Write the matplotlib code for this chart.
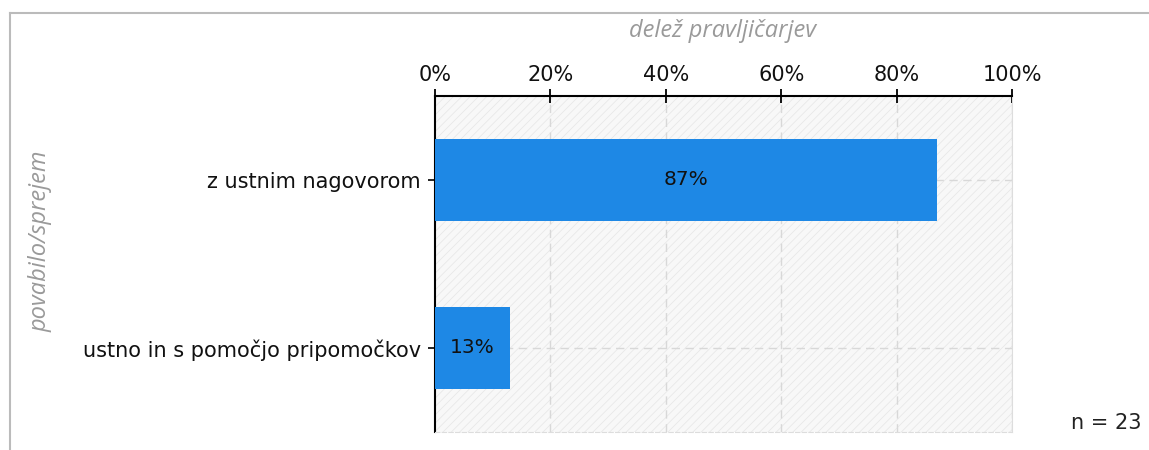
import matplotlib.pyplot as plt
from matplotlib.patches import Rectangle

categories = ["z ustnim nagovorom", "ustno in s pomočjo pripomočkov"]
shares = [87, 13]
x_ticks = [0, 20, 40, 60, 80, 100]
tick_labels = ["0%", "20%", "40%", "60%", "80%", "100%"]
n_total = 23

plt.rcParams["font.family"] = ["DejaVu Sans"]
plt.rcParams["hatch.linewidth"] = 0.6

fig = plt.figure(figsize=(11.49, 4.5), dpi=100)

# grey frame at top and left of the picture
fig.add_artist(plt.Line2D([0.009, 1.0], [0.971, 0.971], color="#bbbbbb", lw=1.5))
fig.add_artist(plt.Line2D([0.009, 0.009], [0.0, 0.971], color="#bbbbbb", lw=1.5))

ax = fig.add_axes([0.3786, 0.04, 0.5022, 0.7467])
ax.set_facecolor("#f8f8f8")
bg = Rectangle((0, -0.5), 100, 2, facecolor="none", edgecolor="#e8e8e8",
               hatch="////", lw=0, zorder=0)
ax.add_patch(bg)

ypos = list(range(len(categories)))
ax.barh(ypos, shares, height=0.49, color="#1e88e5", zorder=3)
for y, v in zip(ypos, shares):
    ax.text(v / 2, y, f"{v}%", ha="center", va="center", fontsize=14.5,
            color="#111111", zorder=4)

ax.set_xlim(0, 100)
ax.set_ylim(1.5, -0.5)
ax.xaxis.tick_top()
ax.set_xticks(x_ticks)
ax.set_xticklabels(tick_labels, fontsize=15, color="#111111")
ax.set_yticks(ypos)
ax.set_yticklabels(categories, fontsize=15, color="#111111")
ax.tick_params(axis="x", direction="inout", length=10, width=1.3, pad=3)
ax.tick_params(axis="y", direction="out", length=5, width=1.2, pad=5)

for x in x_ticks[1:]:
    ax.axvline(x, color="#d8d8d8", ls=(0, (6, 4)), lw=1, zorder=1)
for y in ypos:
    ax.axhline(y, color="#d8d8d8", ls=(0, (6, 4)), lw=1, zorder=1)

ax.spines["top"].set_linewidth(1.5)
ax.spines["left"].set_linewidth(1.5)
ax.spines["right"].set_color("#dddddd")
ax.spines["bottom"].set_color("#dddddd")
ax.spines["bottom"].set_linestyle((0, (4, 2)))

fig.text(0.629, 0.931, "delež pravljičarjev", ha="center", va="center",
         fontsize=17, style="italic", color="#9a9a9a", family="Open Sans")
fig.text(0.035, 0.465, "povabilo/sprejem", ha="center", va="center",
         rotation=90, fontsize=17, style="italic", color="#9a9a9a",
         family="Open Sans")
fig.text(0.9627, 0.06, f"n = {n_total}", ha="center", va="center",
         fontsize=15, color="#222222")

fig.savefig("out.png", dpi=100)
